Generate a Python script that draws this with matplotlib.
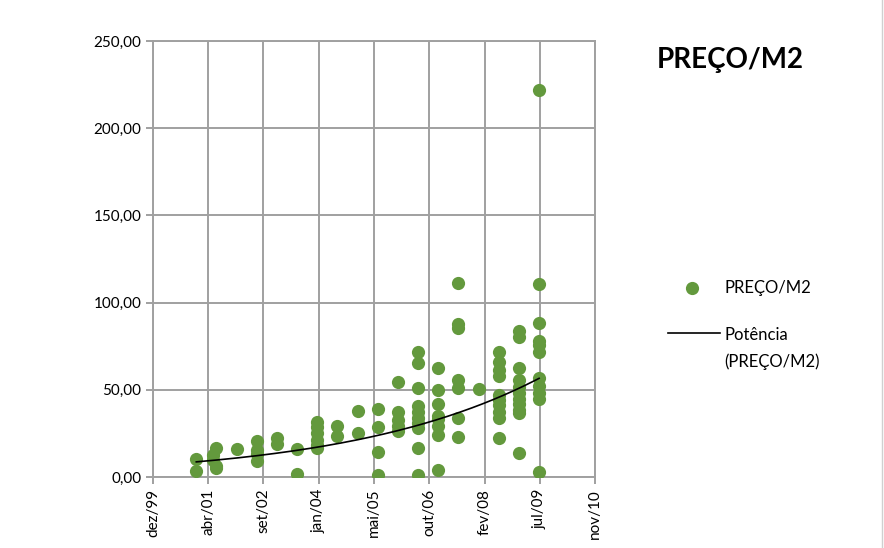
import numpy as np
import pandas as pd
import matplotlib
matplotlib.use("Agg")
import matplotlib.pyplot as plt

plt.rcParams['font.family'] = ['Lato', 'DejaVu Sans']

# values, grouped by sale date
dates = ['2001-01-01', '2001-06-01', '2001-07-01', '2002-01-01', '2002-07-01',
         '2003-01-01', '2003-07-01', '2004-01-01', '2004-07-01', '2005-01-01',
         '2005-07-01', '2006-01-01', '2006-07-01', '2007-01-01', '2007-07-01',
         '2008-01-01', '2008-07-01', '2009-01-01', '2009-07-01']
prices = [
    [10.5, 3.5],
    [12.5, 9.5],
    [16.5, 6.5, 5.0],
    [16.0],
    [20.5, 15.5, 13.0, 9.0],
    [22.5, 19.0],
    [16.0, 2.0],
    [31.5, 28.5, 25.0, 21.5, 18.5, 16.5],
    [29.0, 23.5],
    [38.0, 25.5],
    [39.0, 28.5, 14.5, 1.0],
    [54.5, 37.0, 32.5, 29.5, 26.5],
    [71.5, 65.5, 51.0, 40.5, 37.0, 34.0, 31.0, 28.0, 16.5, 1.0],
    [62.5, 50.0, 42.0, 35.0, 33.0, 29.5, 24.0, 4.0],
    [111.5, 88.0, 85.5, 55.5, 51.0, 34.0, 23.0],
    [50.5],
    [71.5, 66.0, 61.5, 58.0, 47.0, 44.0, 41.0, 37.5, 34.0, 22.5],
    [84.0, 80.0, 62.5, 55.5, 51.5, 48.0, 45.0, 42.0, 38.5, 36.5, 13.5],
    [222.0, 110.5, 88.5, 78.0, 75.5, 71.5, 57.0, 52.0, 48.0, 45.0, 3.0],
]

tick_dates = ['1999-12-06', '2001-04-19', '2002-09-01', '2004-01-14', '2005-05-29',
              '2006-10-11', '2008-02-23', '2009-07-07', '2010-11-19']
tick_labels = ['dez/99', 'abr/01', 'set/02', 'jan/04', 'mai/05',
               'out/06', 'fev/08', 'jul/09', 'nov/10']
y_ticks = [0, 50, 100, 150, 200, 250]

green = '#63993D'
grid_col = '#A0A0A0'

x = pd.to_datetime([d for d, vals in zip(dates, prices) for _ in vals])
y = np.array([v for vals in prices for v in vals])

# power trendline like Excel: uses the serial number of the date as x
serial = (x - pd.Timestamp('1899-12-30')).days.values.astype(float)
b, ln_a = np.polyfit(np.log(serial), np.log(y), 1)
s_fit = np.linspace(serial.min(), serial.max(), 200)
x_fit = pd.Timestamp('1899-12-30') + pd.to_timedelta(s_fit, unit='D')
y_fit = np.exp(ln_a) * s_fit ** b

fig = plt.figure(figsize=(8.84, 5.48), dpi=100)
ax = fig.add_axes([153 / 884, 1 - 477 / 548, 442 / 884, 436 / 548])

ax.plot(x, y, 'o', color=green, markersize=9.5, markeredgewidth=0, zorder=3)
ax.plot(x_fit, y_fit, color='black', linewidth=1.2, zorder=4)

xt = pd.to_datetime(tick_dates)
ax.set_xlim(xt[0], xt[-1])
ax.set_ylim(0, 250)
ax.set_xticks(xt)
ax.set_xticklabels(tick_labels, rotation=90)
ax.set_yticks(y_ticks)
ax.set_yticklabels([f'{v:.2f}'.replace('.', ',') for v in y_ticks])

ax.grid(True, color=grid_col, linewidth=1.4)
ax.set_axisbelow(True)
for sp in ax.spines.values():
    sp.set_color(grid_col)
    sp.set_linewidth(1.4)
ax.tick_params(axis='both', colors=grid_col, length=5, width=1.4,
               labelcolor='black', labelsize=11)

fig.text(730 / 884, 1 - 60 / 548, 'PREÇO/M2', fontsize=20, fontweight='bold',
         ha='center', va='center')

# legend, laid out like the Excel one
def fy(py):
    return 1 - py / 548

fig.add_artist(plt.Line2D([692 / 884], [fy(288)], marker='o', color=green,
                          markersize=9.5, markeredgewidth=0,
                          transform=fig.transFigure))
fig.text(724 / 884, fy(288), 'PREÇO/M2', fontsize=12, va='center')
fig.add_artist(plt.Line2D([668 / 884, 720 / 884], [fy(333), fy(333)],
                          color='black', linewidth=1.2,
                          transform=fig.transFigure))
fig.text(724 / 884, fy(335), 'Potência', fontsize=12, va='center')
fig.text(724 / 884, fy(362), '(PREÇO/M2)', fontsize=12, va='center')

# chart frame edge visible on the right
fig.add_artist(plt.Line2D([882 / 884, 882 / 884], [0, 1], color='#D0D0D0',
                          linewidth=1, transform=fig.transFigure))

fig.savefig('out.png', dpi=100)
